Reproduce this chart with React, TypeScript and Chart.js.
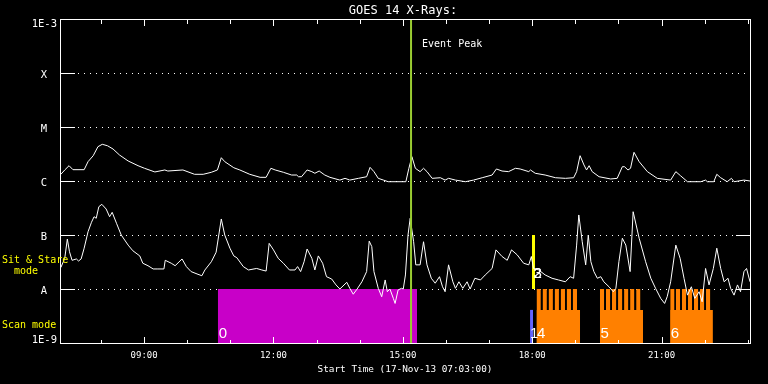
import { useEffect, useRef } from "react";
import { Chart, registerables } from "chart.js";

Chart.register(...registerables);

// ---------- data ----------
const START_HOUR = 7.05; // 07:03
const END_HOUR = 23.05;
const HOUR_TICKS = [8, 9, 10, 11, 12, 13, 14, 15, 16, 17, 18, 19, 20, 21, 22, 23];
const LABELED_HOURS = [9, 12, 15, 18, 21];

const Y_LEVELS = [1e-3, 1e-4, 1e-5, 1e-6, 1e-7, 1e-8, 1e-9];
const Y_LABELS = ["1E-3", "X", "M", "C", "B", "A", "1E-9"];
const Y_RIGHT_TICKS = [1e-7, 1e-8];

// GOES 14 1-8 Å  [hour, W/m^2]
const SOFT_XRAY: [number, number][] = [
  [7.07, 1.33e-6], [7.16, 1.6e-6], [7.26, 1.92e-6], [7.35, 1.62e-6], [7.61, 1.62e-6], [7.7, 2.28e-6],
  [7.82, 2.94e-6], [7.93, 4.32e-6], [8.03, 4.78e-6], [8.15, 4.5e-6], [8.28, 3.91e-6], [8.43, 3.03e-6],
  [8.63, 2.35e-6], [8.86, 1.92e-6], [9.01, 1.72e-6], [9.25, 1.47e-6], [9.48, 1.6e-6], [9.55, 1.53e-6],
  [9.9, 1.6e-6], [10.17, 1.33e-6], [10.37, 1.33e-6], [10.56, 1.45e-6], [10.7, 1.6e-6], [10.79, 2.7e-6],
  [10.87, 2.28e-6], [11.08, 1.76e-6], [11.22, 1.6e-6], [11.45, 1.33e-6], [11.69, 1.17e-6], [11.83, 1.17e-6],
  [11.94, 1.72e-6], [12.04, 1.6e-6], [12.23, 1.45e-6], [12.42, 1.29e-6], [12.54, 1.29e-6], [12.58, 1.2e-6],
  [12.65, 1.2e-6], [12.78, 1.6e-6], [12.89, 1.49e-6], [12.96, 1.39e-6], [13.06, 1.53e-6], [13.19, 1.29e-6],
  [13.31, 1.17e-6], [13.54, 1.04e-6], [13.66, 1.12e-6], [13.77, 1.04e-6], [13.97, 1.12e-6], [14.16, 1.2e-6],
  [14.24, 1.79e-6], [14.33, 1.49e-6], [14.43, 1.12e-6], [14.55, 1.04e-6], [14.66, 0.97e-6], [15.07, 0.97e-6],
  [15.14, 1.72e-6], [15.21, 2.82e-6], [15.29, 1.72e-6], [15.4, 1.49e-6], [15.48, 1.72e-6], [15.56, 1.49e-6],
  [15.68, 1.12e-6], [15.87, 1.15e-6], [15.98, 1.04e-6], [16.06, 1.12e-6], [16.22, 1.04e-6], [16.45, 0.97e-6],
  [16.64, 1.04e-6], [16.84, 1.15e-6], [17.07, 1.29e-6], [17.17, 1.67e-6], [17.3, 1.53e-6], [17.45, 1.49e-6],
  [17.61, 1.72e-6], [17.72, 1.67e-6], [17.92, 1.49e-6], [17.96, 1.6e-6], [18.07, 1.39e-6], [18.3, 1.29e-6],
  [18.54, 1.15e-6], [18.77, 1.12e-6], [18.96, 1.15e-6], [19.03, 1.49e-6], [19.11, 2.94e-6], [19.2, 1.98e-6],
  [19.26, 1.6e-6], [19.32, 1.92e-6], [19.39, 1.49e-6], [19.55, 1.2e-6], [19.82, 1.09e-6], [19.97, 1.12e-6],
  [20.09, 1.84e-6], [20.14, 1.84e-6], [20.22, 1.6e-6], [20.28, 1.72e-6], [20.36, 3.4e-6], [20.48, 2.28e-6],
  [20.67, 1.49e-6], [20.9, 1.12e-6], [21.21, 1.04e-6], [21.33, 1.49e-6], [21.44, 1.25e-6], [21.6, 0.97e-6],
  [21.91, 0.97e-6], [22.02, 1.04e-6], [22.06, 0.97e-6], [22.21, 0.97e-6], [22.28, 1.33e-6], [22.37, 1.15e-6],
  [22.52, 0.97e-6], [22.62, 1.12e-6], [22.68, 0.97e-6], [22.91, 1.04e-6], [23.05, 1.0e-6],
];

// GOES 14 0.5-4 Å  [hour, W/m^2]
const HARD_XRAY: [number, number][] = [
  [7.07, 2.5e-8], [7.16, 3.7e-8], [7.22, 8.4e-8], [7.27, 4.9e-8], [7.33, 3.4e-8], [7.43, 3.6e-8],
  [7.48, 3.3e-8], [7.54, 3.6e-8], [7.61, 5.7e-8], [7.7, 1.15e-7], [7.78, 1.72e-7], [7.84, 2.18e-7],
  [7.89, 2.04e-7], [7.95, 3.34e-7], [8.02, 3.7e-7], [8.12, 3.03e-7], [8.2, 2.18e-7], [8.26, 2.63e-7],
  [8.36, 1.65e-7], [8.47, 1.0e-7], [8.63, 6.5e-8], [8.74, 5.1e-8], [8.9, 4.1e-8], [8.97, 3.0e-8],
  [9.09, 2.7e-8], [9.21, 2.35e-8], [9.32, 2.35e-8], [9.46, 2.35e-8], [9.49, 3.4e-8], [9.63, 3.0e-8],
  [9.72, 2.7e-8], [9.88, 3.6e-8], [9.98, 2.6e-8], [10.09, 2.1e-8], [10.25, 1.87e-8], [10.34, 1.76e-8],
  [10.41, 2.25e-8], [10.56, 3.2e-8], [10.67, 4.8e-8], [10.79, 1.98e-7], [10.87, 1.0e-7], [10.99, 5.7e-8],
  [11.08, 4.1e-8], [11.15, 3.8e-8], [11.3, 2.6e-8], [11.42, 2.25e-8], [11.61, 2.4e-8], [11.73, 2.25e-8],
  [11.83, 2.15e-8], [11.9, 7.0e-8], [12.0, 5.3e-8], [12.11, 3.7e-8], [12.23, 3.0e-8], [12.37, 2.25e-8],
  [12.5, 2.25e-8], [12.56, 2.6e-8], [12.63, 2.1e-8], [12.71, 3.2e-8], [12.78, 5.5e-8], [12.89, 3.7e-8],
  [12.96, 2.25e-8], [13.04, 4.1e-8], [13.14, 3.0e-8], [13.23, 1.69e-8], [13.35, 1.53e-8], [13.45, 1.19e-8],
  [13.54, 1.0e-8], [13.7, 1.33e-8], [13.77, 1.03e-8], [13.85, 8.0e-9], [13.94, 1.0e-8], [14.05, 1.36e-8],
  [14.16, 2.1e-8], [14.22, 7.7e-8], [14.28, 6.1e-8], [14.33, 2.1e-8], [14.43, 1.03e-8], [14.51, 7.2e-9],
  [14.59, 1.47e-8], [14.64, 8.9e-9], [14.7, 1.0e-8], [14.78, 6.7e-9], [14.82, 5.4e-9], [14.89, 9.6e-9],
  [14.97, 1.03e-8], [15.01, 1.0e-8], [15.06, 1.82e-8], [15.12, 1.0e-7], [15.17, 2.04e-7], [15.25, 7.5e-8],
  [15.3, 2.8e-8], [15.4, 2.8e-8], [15.48, 7.5e-8], [15.56, 2.8e-8], [15.66, 1.58e-8], [15.75, 1.28e-8],
  [15.85, 1.69e-8], [15.92, 1.1e-8], [15.98, 8.9e-9], [16.06, 2.8e-8], [16.16, 1.36e-8], [16.22, 1.03e-8],
  [16.3, 1.36e-8], [16.39, 1.03e-8], [16.49, 1.36e-8], [16.56, 1.0e-8], [16.67, 1.58e-8], [16.8, 1.47e-8],
  [16.91, 1.82e-8], [17.07, 2.4e-8], [17.16, 5.3e-8], [17.3, 4.0e-8], [17.42, 3.4e-8], [17.52, 5.3e-8],
  [17.65, 4.3e-8], [17.8, 3.0e-8], [17.92, 2.8e-8], [17.98, 4.0e-8], [18.03, 2.4e-8], [18.15, 2.25e-8],
  [18.3, 1.82e-8], [18.46, 1.58e-8], [18.61, 1.47e-8], [18.77, 1.36e-8], [18.88, 1.69e-8], [18.96, 1.58e-8],
  [19.03, 6.5e-8], [19.08, 2.35e-7], [19.16, 7.5e-8], [19.24, 2.8e-8], [19.3, 1.0e-7], [19.36, 3.2e-8],
  [19.43, 2.1e-8], [19.51, 1.58e-8], [19.59, 1.69e-8], [19.66, 1.36e-8], [19.78, 1.1e-8], [19.88, 8.9e-9],
  [19.94, 1.03e-8], [20.01, 3.2e-8], [20.09, 8.7e-8], [20.17, 6.5e-8], [20.27, 2.1e-8], [20.34, 2.7e-7],
  [20.48, 8.7e-8], [20.63, 3.2e-8], [20.75, 1.58e-8], [20.86, 1.03e-8], [20.98, 6.7e-9], [21.07, 5.4e-9],
  [21.13, 7.2e-9], [21.21, 1.36e-8], [21.33, 6.5e-8], [21.43, 3.7e-8], [21.52, 1.58e-8], [21.6, 7.7e-9],
  [21.69, 1.1e-8], [21.77, 6.7e-9], [21.87, 8.9e-9], [21.94, 5.8e-9], [22.02, 2.4e-8], [22.1, 1.19e-8],
  [22.2, 2.4e-8], [22.28, 5.7e-8], [22.37, 2.4e-8], [22.45, 1.36e-8], [22.54, 1.58e-8], [22.6, 1.03e-8],
  [22.68, 7.7e-9], [22.76, 1.19e-8], [22.83, 8.9e-9], [22.91, 2.1e-8], [22.97, 2.4e-8], [23.05, 1.36e-8],
];

const EVENT_PEAK_HOUR = 15.19;

// observation-mode rows (flux levels used as row boundaries)
const SIT_STARE_TOP = 1e-7;
const MODE_SPLIT = 1e-8;
const STRIPE_BASE = 4.1e-9;

const MAGENTA_OBS = { start: 10.71, end: 15.33, label: "0" };
const BLUE_OBS = { start: 17.95, end: 18.02, label: "1" };
const SIT_STARE_OBS = { start: 17.995, end: 18.065, labels: ["2", "3"] };
const RASTER_BLOCKS = [
  { label: "4", end: 19.11, stripes: [18.1, 18.24, 18.38, 18.52, 18.66, 18.8, 18.94] },
  { label: "5", end: 20.57, stripes: [19.57, 19.71, 19.85, 19.99, 20.13, 20.27, 20.41] },
  { label: "6", end: 22.19, stripes: [21.2, 21.33, 21.47, 21.61, 21.75, 21.89, 22.03] },
];
const STRIPE_HOURS = 0.1;

// ---------- helpers ----------
const MONO = "'DejaVu Sans Mono', monospace";
const WHITE = "#ffffff";
const YELLOW = "#ffff00";
const MAGENTA = "#c800c8";
const ORANGE = "#ff8000";
const BLUE = "#6464ff";
const PEAK_GREEN = "#9acd32";

const hh = (h: number) => `${String(h).padStart(2, "0")}:00`;

const framePlugin = {
  id: "goesFrame",
  beforeDraw(chart: any) {
    const { ctx, width, height } = chart;
    ctx.save();
    ctx.fillStyle = "#000";
    ctx.fillRect(0, 0, width, height);
    ctx.restore();
  },
  beforeDatasetsDraw(chart: any) {
    const { ctx, chartArea } = chart;
    const y = chart.scales.y;
    ctx.save();
    ctx.fillStyle = WHITE;
    Y_LEVELS.slice(1, -1).forEach((v) => {
      const py = Math.round(y.getPixelForValue(v));
      const stop = Y_RIGHT_TICKS.includes(v) ? chartArea.right - 16 : chartArea.right - 2;
      for (let px = chartArea.left + 18; px <= stop; px += 6) ctx.fillRect(px, py, 1, 1);
    });
    ctx.restore();
  },
  afterDatasetsDraw(chart: any) {
    const { ctx, chartArea } = chart;
    const x = chart.scales.x;
    const y = chart.scales.y;
    const L = Math.round(chartArea.left);
    const R = Math.round(chartArea.right);
    const T = Math.round(chartArea.top);
    const B = Math.round(chartArea.bottom);
    ctx.save();
    ctx.fillStyle = WHITE;
    // frame
    ctx.fillRect(L, T, R - L + 1, 1);
    ctx.fillRect(L, B, R - L + 1, 1);
    ctx.fillRect(L, T, 1, B - T + 1);
    ctx.fillRect(R, T, 1, B - T + 1);
    // x ticks (inward, top and bottom)
    HOUR_TICKS.forEach((h) => {
      const px = Math.round(x.getPixelForValue(h));
      const major = LABELED_HOURS.includes(h);
      ctx.fillRect(px, B - (major ? 6 : 3), 1, major ? 6 : 3);
      ctx.fillRect(px, T + 1, 1, major ? 6 : 4);
    });
    // y ticks
    Y_LEVELS.slice(1, -1).forEach((v) => {
      const py = Math.round(y.getPixelForValue(v));
      ctx.fillRect(L, py, 15, 1);
      if (Y_RIGHT_TICKS.includes(v)) ctx.fillRect(R - 14, py, 14, 1);
    });
    // y labels
    ctx.font = `10.5px ${MONO}`;
    ctx.textBaseline = "alphabetic";
    Y_LEVELS.forEach((v, i) => {
      const py = y.getPixelForValue(v);
      const lab = Y_LABELS[i];
      if (i === 0) {
        ctx.textAlign = "right";
        ctx.fillText(lab, L - 3, py + 8);
      } else if (i === Y_LEVELS.length - 1) {
        ctx.textAlign = "right";
        ctx.fillText(lab, L - 3, py);
      } else {
        ctx.textAlign = "center";
        ctx.fillText(lab, L - 16, py + 5);
      }
    });
    // title
    ctx.font = `12px ${MONO}`;
    ctx.textAlign = "center";
    ctx.fillText("GOES 14 X-Rays:", (L + R) / 2 - 2, T - 5.5);
    // event peak label
    const ex = x.getPixelForValue(EVENT_PEAK_HOUR);
    ctx.font = `10px ${MONO}`;
    ctx.textAlign = "left";
    ctx.fillText("Event Peak", ex + 11, T + 27.7);
    // x axis title
    ctx.font = `9.4px ${MONO}`;
    ctx.textAlign = "center";
    ctx.fillText("Start Time (17-Nov-13 07:03:00)", (L + R) / 2, B + 29);
    // mode row labels
    ctx.fillStyle = YELLOW;
    ctx.font = `10px ${MONO}`;
    ctx.textAlign = "left";
    const rowTop = y.getPixelForValue(SIT_STARE_TOP);
    const rowMid = y.getPixelForValue(MODE_SPLIT);
    ctx.fillText("Sit & Stare", 2, rowTop + 27.7);
    ctx.fillText("  mode", 2, rowTop + 39.3);
    ctx.fillText("Scan mode", 2, rowMid + 38.7);
    // observation numbers
    ctx.fillStyle = WHITE;
    ctx.font = "15px 'Liberation Sans', sans-serif";
    const scanBase = B - 4.7;
    ctx.fillText(MAGENTA_OBS.label, x.getPixelForValue(MAGENTA_OBS.start) + 1, scanBase);
    ctx.fillText(BLUE_OBS.label, x.getPixelForValue(BLUE_OBS.start), scanBase);
    RASTER_BLOCKS.forEach((b) => ctx.fillText(b.label, x.getPixelForValue(b.stripes[0]) + 0.5, scanBase));
    SIT_STARE_OBS.labels.forEach((lab) =>
      ctx.fillText(lab, x.getPixelForValue(SIT_STARE_OBS.start) + 1.5, rowMid - 11.3)
    );
    ctx.restore();
  },
};

export default function App() {
  const ref = useRef<HTMLCanvasElement>(null);
  useEffect(() => {
    document.body.style.margin = "0";
    document.body.style.background = "#000";
    const lineDs = (label: string, data: [number, number][]) => ({
      label,
      data: data.map(([t, f]) => ({ x: t, y: f })),
      borderColor: WHITE,
      borderWidth: 1,
      pointRadius: 0,
      fill: false,
      tension: 0,
      order: 5,
    });
    // a filled band between [t0, t1] from the fill target up to `top`
    const bandDs = (label: string, t0: number, t1: number, top: number, color: string, fill: any) => ({
      label,
      data: [
        { x: t0, y: top },
        { x: t1, y: top },
      ],
      borderWidth: 0,
      borderColor: color,
      backgroundColor: color,
      pointRadius: 0,
      fill,
      tension: 0,
      order: 10,
    });
    const datasets: any[] = [
      bandDs("scan 0", MAGENTA_OBS.start, MAGENTA_OBS.end, MODE_SPLIT, MAGENTA, "start"),
      bandDs("scan 1", BLUE_OBS.start, BLUE_OBS.end, STRIPE_BASE, BLUE, "start"),
      bandDs("sit & stare 2/3", SIT_STARE_OBS.start, SIT_STARE_OBS.end, SIT_STARE_TOP, YELLOW, {
        value: MODE_SPLIT,
      }),
      ...RASTER_BLOCKS.map((b) =>
        bandDs(`raster ${b.label} base`, b.stripes[0], b.end, STRIPE_BASE, ORANGE, "start")
      ),
      ...RASTER_BLOCKS.flatMap((b) =>
        b.stripes.map((s, i) =>
          bandDs(`raster ${b.label} step ${i}`, s, s + STRIPE_HOURS, MODE_SPLIT, ORANGE, "start")
        )
      ),
      lineDs("1-8 A", SOFT_XRAY),
      lineDs("0.5-4 A", HARD_XRAY),
      {
        label: "Event Peak",
        data: [
          { x: EVENT_PEAK_HOUR, y: Y_LEVELS[Y_LEVELS.length - 1] },
          { x: EVENT_PEAK_HOUR, y: Y_LEVELS[0] },
        ],
        borderColor: PEAK_GREEN,
        borderWidth: 2,
        pointRadius: 0,
        fill: false,
        order: 1,
      },
    ];
    const chart = new Chart(ref.current as HTMLCanvasElement, {
      type: "line",
      data: { datasets },
      options: {
        animation: false,
        responsive: true,
        maintainAspectRatio: false,
        layout: { padding: { top: 19, right: 18, left: 0, bottom: 0 } },
        plugins: { legend: { display: false }, tooltip: { enabled: false }, title: { display: false } },
        scales: {
          x: {
            type: "linear",
            min: START_HOUR,
            max: END_HOUR,
            grid: { display: false, drawTicks: false },
            border: { display: false },
            afterBuildTicks: (scale: any) => {
              scale.ticks = HOUR_TICKS.map((v) => ({ value: v }));
            },
            afterFit: (scale: any) => {
              scale.height = 41;
            },
            ticks: {
              autoSkip: false,
              maxRotation: 0,
              padding: 7,
              color: WHITE,
              font: { family: "DejaVu Sans Mono", size: 9 },
              callback: (v: any) => (LABELED_HOURS.includes(Number(v)) ? hh(Number(v)) : ""),
            },
          },
          y: {
            type: "logarithmic",
            min: Y_LEVELS[Y_LEVELS.length - 1],
            max: Y_LEVELS[0],
            grid: { display: false, drawTicks: false },
            border: { display: false },
            ticks: { display: false },
            afterFit: (scale: any) => {
              scale.width = 60;
            },
          },
        },
      },
      plugins: [framePlugin],
    } as any);
    return () => chart.destroy();
  }, []);
  return (
    <div style={{ position: "relative", width: 768, height: 384 }}>
      <canvas ref={ref} />
    </div>
  );
}
